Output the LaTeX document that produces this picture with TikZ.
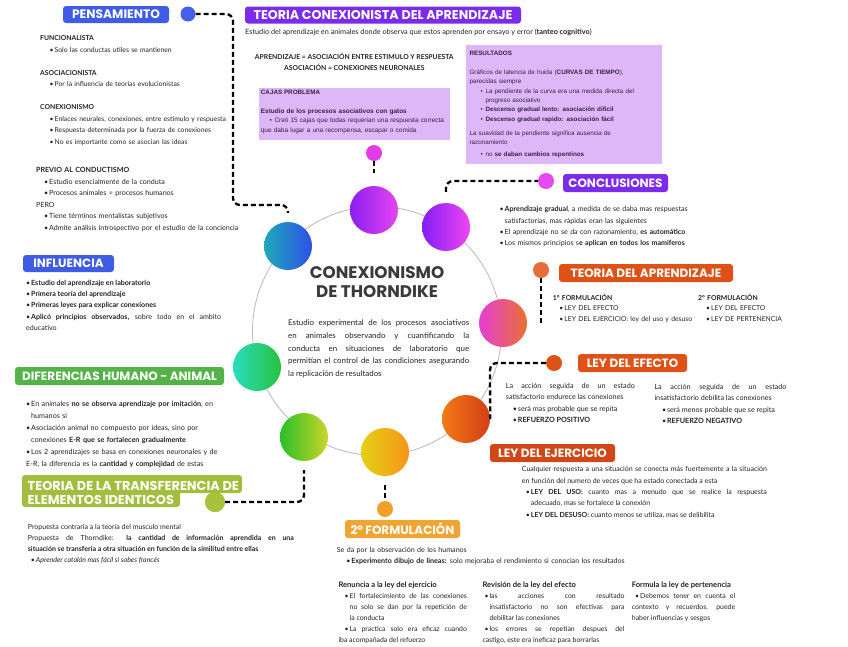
\documentclass[tikz,border=0pt]{standalone}
\usepackage{fontspec}
\setmainfont{Lato}
\newfontfamily\hfont{Poppins}
\newfontfamily\afont{Liberation Sans}
\setlength{\parindent}{0pt}
\tolerance=10000
\hyphenpenalty=10000
\exhyphenpenalty=10000
\hbadness=10000
\newcommand{\itm}[1][0pt]{\par\noindent\hangindent=\dimexpr#1+5pt\relax\hangafter=1\hspace*{#1}\makebox[5pt][l]{\textbullet}}
\newcommand{\fitm}[1][0pt]{\noindent\hangindent=\dimexpr#1+5pt\relax\hangafter=1\hspace*{#1}\makebox[5pt][l]{\textbullet}}
\definecolor{txt}{RGB}{35,35,35}
\definecolor{boxtxt}{RGB}{55,35,70}
\definecolor{lav}{RGB}{221,183,247}
\definecolor{titlec}{RGB}{58,58,58}
\definecolor{ringc}{RGB}{185,185,185}
\definecolor{hblue}{RGB}{62,92,228}
\definecolor{hpurple}{RGB}{124,42,235}
\definecolor{horange}{RGB}{222,82,24}
\definecolor{hred}{RGB}{208,72,24}
\definecolor{hyellow}{RGB}{240,165,50}
\definecolor{hgreen}{RGB}{84,178,72}
\definecolor{hlime}{RGB}{162,190,62}
\definecolor{dblue}{RGB}{70,95,235}
\definecolor{dpink}{RGB}{225,60,230}
\definecolor{dmag}{RGB}{232,72,242}
\definecolor{dsalmon}{RGB}{230,110,60}
\definecolor{dred}{RGB}{222,82,24}
\definecolor{dyellow}{RGB}{240,160,40}
\definecolor{dlime}{RGB}{165,195,60}
\definecolor{c1a}{RGB}{30,170,185}\definecolor{c1b}{RGB}{45,80,230}
\definecolor{c2a}{RGB}{140,30,240}\definecolor{c2b}{RGB}{230,70,240}
\definecolor{c3a}{RGB}{130,30,245}\definecolor{c3b}{RGB}{240,70,240}
\definecolor{c4a}{RGB}{228,62,212}\definecolor{c4b}{RGB}{236,112,50}
\definecolor{c5a}{RGB}{242,122,22}\definecolor{c5b}{RGB}{210,62,22}
\definecolor{c6a}{RGB}{228,208,22}\definecolor{c6b}{RGB}{246,150,22}
\definecolor{c7a}{RGB}{40,192,40}\definecolor{c7b}{RGB}{205,212,40}
\definecolor{c8a}{RGB}{40,222,190}\definecolor{c8b}{RGB}{40,192,62}
\tikzset{
 body/.style={anchor=north west, inner sep=0pt, text=txt, font=\fontsize{7.1}{11.5}\selectfont, align=left},
 jbody/.style={body, align=justify},
 abody/.style={anchor=north west, inner sep=0pt, text=boxtxt, font=\afont\fontsize{6.3}{9.3}\selectfont, align=left},
 hdr/.style={rounded corners=3pt, text=white, inner sep=0pt, font=\hfont\bfseries\fontsize{12}{12}\selectfont},
 dot/.style={circle, inner sep=0pt, minimum size=16pt},
 ball/.style={circle, inner sep=0pt, minimum size=48pt},
 conn/.style={line width=2.3pt, dash pattern=on 5pt off 3pt, rounded corners=7pt},
}
\begin{document}
\begin{tikzpicture}[x=1pt,y=-1pt]
\path[fill=white, use as bounding box] (0,0) rectangle (848,646);

% ring and balls
\draw[ringc, line width=0.8pt] (377,331) circle (124.5);
\node[ball, left color=c1a, right color=c1b] (b1) at (288,246) {};
\node[ball, left color=c2a, right color=c2b] (b2) at (374,210) {};
\node[ball, left color=c3a, right color=c3b] (b3) at (446,227) {};
\node[ball, left color=c4a, right color=c4b] (b4) at (503,323) {};
\node[ball, left color=c5a, right color=c5b] (b5) at (466,419) {};
\node[ball, left color=c6a, right color=c6b] (b6) at (385,452) {};
\node[ball, left color=c7a, right color=c7b] (b7) at (304,437) {};
\node[ball, left color=c8a, right color=c8b] (b8) at (257,367) {};

% dots
\node[dot, fill=dblue, minimum size=15pt] (dpens) at (188,14) {};
\node[dot, fill=dpink] (dpink) at (374,153) {};
\node[dot, fill=dmag] (dconc) at (546,181) {};
\node[dot, fill=dsalmon] (dta) at (541,270) {};
\node[dot, fill=dred] (dle) at (554,363) {};
\node[dot, fill=dyellow] (d2f) at (385,509) {};
\node[dot, fill=dlime, minimum size=20pt] (dtr) at (215,502) {};
\coordinate (taend) at (541,324);

% connectors
\draw[conn, shorten >=9pt] (dpens.east) -- (233,14) -- (233,205) -- (288,205) -- (b1.north);
\draw[conn, shorten >=13pt] (dpink.south) -- (b2.north);
\draw[conn, shorten <=11pt] (b3.north) -- (446,181) -- (dconc.west);
\draw[conn] (dta.south) -- (taend);
\draw[conn] (dle.west) -- (490,363) -- (b5.east);
\draw[conn, shorten <=9pt, shorten >=2pt] (b6.south) -- (d2f.north);
\draw[conn, shorten >=9pt] (dtr.east) -- (304,502) -- (b7.south);

% headers
\node[hdr, fill=hblue, minimum width=106pt, minimum height=17pt, font=\hfont\bfseries\fontsize{12.3}{12}\selectfont] (hpens) at (116,14.5) {PENSAMIENTO};
\node[hdr, fill=hpurple, minimum width=276pt, minimum height=17pt, font=\hfont\bfseries\fontsize{12.7}{12}\selectfont] (hteo) at (383,15) {TEORIA CONEXIONISTA DEL APRENDIZAJE};
\node[hdr, fill=hpurple, minimum width=105pt, minimum height=18pt] (hconc) at (615.5,183) {CONCLUSIONES};
\node[hdr, fill=horange, minimum width=174pt, minimum height=18pt] (hta) at (646,273) {TEORIA DEL APRENDIZAJE};
\node[hdr, fill=horange, minimum width=109pt, minimum height=18pt] (hle) at (632.5,363) {LEY DEL EFECTO};
\node[hdr, fill=hred, minimum width=125pt, minimum height=18pt] (hlej) at (552.5,453) {LEY DEL EJERCICIO};
\node[hdr, fill=hyellow, minimum width=115pt, minimum height=18pt] (h2f) at (402.5,529) {2º FORMULACIÓN};
\node[hdr, fill=hblue, minimum width=91pt, minimum height=17pt] (hinf) at (68.5,263.5) {INFLUENCIA};
\node[hdr, fill=hgreen, minimum width=209pt, minimum height=18pt] (hdif) at (119.5,376) {DIFERENCIAS HUMANO - ANIMAL};
\path[fill=hlime, rounded corners=3pt] (22,475) rectangle (242,493);
\path[fill=hlime, rounded corners=3pt] (22,489) rectangle (180,507);
\node[text=white, inner sep=0pt, anchor=north west, align=left, font=\hfont\bfseries\fontsize{12.9}{14.3}\selectfont] (htr) at (27.5,480.8) {TEORIA DE LA TRANSFERENCIA DE\\ELEMENTOS IDENTICOS};
\path[fill=dlime] (dtr.center) circle (10);

% title
\node[font=\hfont\bfseries\fontsize{16.8}{18.5}\selectfont, text=titlec, align=center] (title) at (377,282) {CONEXIONISMO\\DE THORNDIKE};
\node[jbody, text width=181pt, font=\fontsize{7.9}{12.7}\selectfont] (cdesc) at (288,319.8) {Estudio experimental de los procesos asociativos\linebreak en animales observando y cuantificando la\linebreak conducta en situaciones de laboratorio que\linebreak permitían el control de las condiciones asegurando\linebreak la replicación de resultados};

% pensamiento
\node[body, text width=220pt, font=\fontsize{6.8}{11.5}\selectfont] (pen1) at (40,35.4) {\textbf{FUNCIONALISTA}
\itm[9.5pt]Solo las conductas utiles se mantienen\par\mbox{}\par
\textbf{ASOCIACIONISTA}
\itm[9.5pt]Por la influencia de teorias evolucionistas\par\mbox{}\par
\textbf{CONEXIONISMO}
\itm[9.5pt]Enlaces neurales, conexiones, entre estimulo y respuesta
\itm[9.5pt]Respuesta determinada por la fuerza de conexiones
\itm[9.5pt]No es importante como se asocian las ideas};
\node[body, text width=230pt] (pen2) at (36,167.2) {\textbf{PREVIO AL CONDUCTISMO}
\itm[8pt]Estudio esencialmente de la conduta
\itm[8pt]Procesos animales = procesos humanos\par
PERO
\itm[8pt]Tiene términos mentalistas subjetivos
\itm[8pt]Admite análisis introspectivo por el estudio de la conciencia};

% teoria conexionista
\node[body, font=\fontsize{7.3}{11}\selectfont] (tdesc) at (245,28.5) {Estudio del aprendizaje en animales donde observa que estos aprenden por ensayo y error (\textbf{tanteo cognitivo})};
\node[body, anchor=north, align=center, font=\bfseries\fontsize{6.8}{11}\selectfont] (apr) at (354.3,53.2) {APRENDIZAJE = ASOCIACIÓN ENTRE ESTIMULO Y RESPUESTA\\ASOCIACIÓN = CONEXIONES NEURONALES};
\node[fill=lav, inner sep=0pt, minimum width=191pt, minimum height=52pt, anchor=north west] (cajas) at (259,87.3) {};
\node[abody] (cajt) at (260.7,89.8) {\textbf{CAJAS PROBLEMA}};
\node[abody, text width=188pt, font=\afont\fontsize{6.45}{9.3}\selectfont] (cajb) at (260.7,108.6) {\textbf{Estudio de los procesos asociativos con gatos}\itm[8.6pt]Creó 15 cajas que todas requerian una respuesta correcta\newline que daba lugar a una recompensa, escapar o comida};
\node[fill=lav, inner sep=0pt, minimum width=196pt, minimum height=119pt, anchor=north west] (resbox) at (466,45) {};
\node[abody] (rest) at (469.3,50.4) {\textbf{RESULTADOS}};
\node[abody, text width=188pt] (resb) at (469.3,69.8) {Gráficos de latencia de huida (\textbf{CURVAS DE TIEMPO}),\newline parecidas siempre
\itm[11pt]La pendiente de la curva era una medida directa del\newline progreso asociativo
\itm[11pt]\textbf{Descenso gradual lento: asociación difícil}
\itm[11pt]\textbf{Descenso gradual rapido: asociación fácil}};
\node[abody, text width=188pt] (resc) at (469.3,130.4) {La suavidad de la pendiente significa ausencia de\newline razonamiento\par\vspace{3pt}\itm[11pt]no \textbf{se daban cambios repentinos}};

% conclusiones
\node[body, text width=250pt, font=\fontsize{7.1}{11.3}\selectfont] (conc) at (499.5,206.4) {\fitm\textbf{Aprendizaje gradual}, a medida de se daba mas respuestas\newline satisfactorias, mas rápidas eran las siguientes\itm El aprendizaje no se da con razonamiento, \textbf{es automático}\itm Los mismos principios s\textbf{e aplican en todos los mamiferos}};

% teoria del aprendizaje
\node[body, font=\fontsize{6.8}{10.5}\selectfont, text width=145pt] (ta1) at (552.7,293.8) {\textbf{1° FORMULACIÓN}\itm[6.5pt]LEY DEL EFECTO\itm[6.5pt]LEY DEL EJERCICIO: ley del uso y desuso};
\node[body, font=\fontsize{6.8}{10.5}\selectfont, text width=120pt] (ta2) at (698,293.8) {\textbf{2° FORMULACIÓN}\itm[8pt]LEY DEL EFECTO\itm[8pt]LEY DE PERTENENCIA};

% ley del efecto
\node[jbody, text width=129pt, font=\fontsize{7.2}{11.3}\selectfont] (le1) at (505.7,383.1) {La acción seguida de un estado\linebreak satisfactorio endurece las conexiones\itm[7pt]será mas probable que se repita\itm[7pt]\textbf{REFUERZO POSITIVO}};
\node[jbody, text width=132pt, font=\fontsize{7.2}{11.3}\selectfont] (le2) at (654.3,384.1) {La acción seguida de un estado\linebreak insatisfactorio debilita las conexiones\itm[7.5pt]será menos probable que se repita\itm[7.5pt]\textbf{REFUERZO NEGATIVO}};

% ley del ejercicio
\node[jbody, text width=245pt, font=\fontsize{7.0}{11.4}\selectfont] (lej) at (521.7,466.4) {Cualquier respuesta a una situación se conecta más fuertemente a la situación\linebreak en función del numero de veces que ha estado conectada a esta\itm[4pt]\textbf{LEY DEL USO:} cuanto mas a menudo que se realice la respuesta\linebreak adecuado, mas se fortalece la conexión\itm[4pt]\textbf{LEY DEL DESUSO:} cuanto menos se utiliza, mas se delibilita};

% 2 formulacion
\node[body, text width=350pt, font=\fontsize{7.1}{10.7}\selectfont] (f2) at (336.7,547.4) {Se da por la observación de los humanos\itm[9.5pt]\textbf{Experimento dibujo de lineas:} solo mejoraba el rendimiento si conocian los resultados};
\node[jbody, text width=128.4pt, font=\fontsize{6.9}{11}\selectfont] (bc1) at (338.3,581.8) {{\fontsize{7.6}{11}\selectfont\textbf{Renuncia a la ley del ejercicio}}\itm[6.2pt]El fortalecimiento de las conexiones\linebreak no solo se dan por la repetición de\linebreak la conducta\itm[6.2pt]La practica solo era eficaz cuando\linebreak iba acompañada del refuerzo};
\node[jbody, text width=142pt, font=\fontsize{6.9}{11}\selectfont] (bc2) at (482.3,581.3) {{\fontsize{7.6}{11}\selectfont\textbf{Revisión de la ley del efecto}}\itm[2pt]las acciones con resultado\linebreak insatisfactorio no son efectivas para\linebreak debilitar las conexiones\itm[2pt]los errores se repetian despues del\linebreak castigo, este era ineficaz para borrarlas};
\node[jbody, text width=103.3pt, font=\fontsize{6.9}{11}\selectfont] (bc3) at (631.7,581.3) {{\fontsize{7.6}{11}\selectfont\textbf{Formula la ley de pertenencia}}\itm[3.3pt]Debemos tener en cuenta el\linebreak contexto y recuerdos, puede\linebreak haber influencias y sesgos};

% influencia
\node[jbody, text width=195pt, font=\fontsize{7.1}{11.3}\selectfont] (infl) at (26,279.7) {\fitm\textbf{Estudio del aprendizaje en laboratorio}\itm\textbf{Primera teoría del aprendizaje}\itm\textbf{Primeras leyes para explicar conexiones}\itm\textbf{Aplicó principios observados,} sobre todo en el ambito\linebreak educativo};

% diferencias
\node[body, text width=220pt, font=\fontsize{7.2}{12}\selectfont] (dif) at (26,400.7) {\fitm En animales \textbf{no se observa aprendizaje por imitación}, en\newline humanos si\itm Asociación animal no compuesto por ideas, sino por\newline conexiones \textbf{E-R que se fortalecen gradualmente}\itm Los 2 aprendizajes se basa en conexiones neuronales y de\newline E-R, la diferencia es la \textbf{cantidad y complejidad} de estas};

% transferencia
\node[jbody, text width=266pt, font=\fontsize{7.0}{11.3}\selectfont] (tr) at (27.7,523.7) {Propuesta contraria a la teoría del musculo mental\par Propuesta de Thorndike: \textbf{la cantidad de información aprendida en una\linebreak situación se transfería a otra situación en función de la similitud entre ellas}\itm[3pt]\textit{Aprender catalán mas fácil si sabes francés}};
\end{tikzpicture}
\end{document}
